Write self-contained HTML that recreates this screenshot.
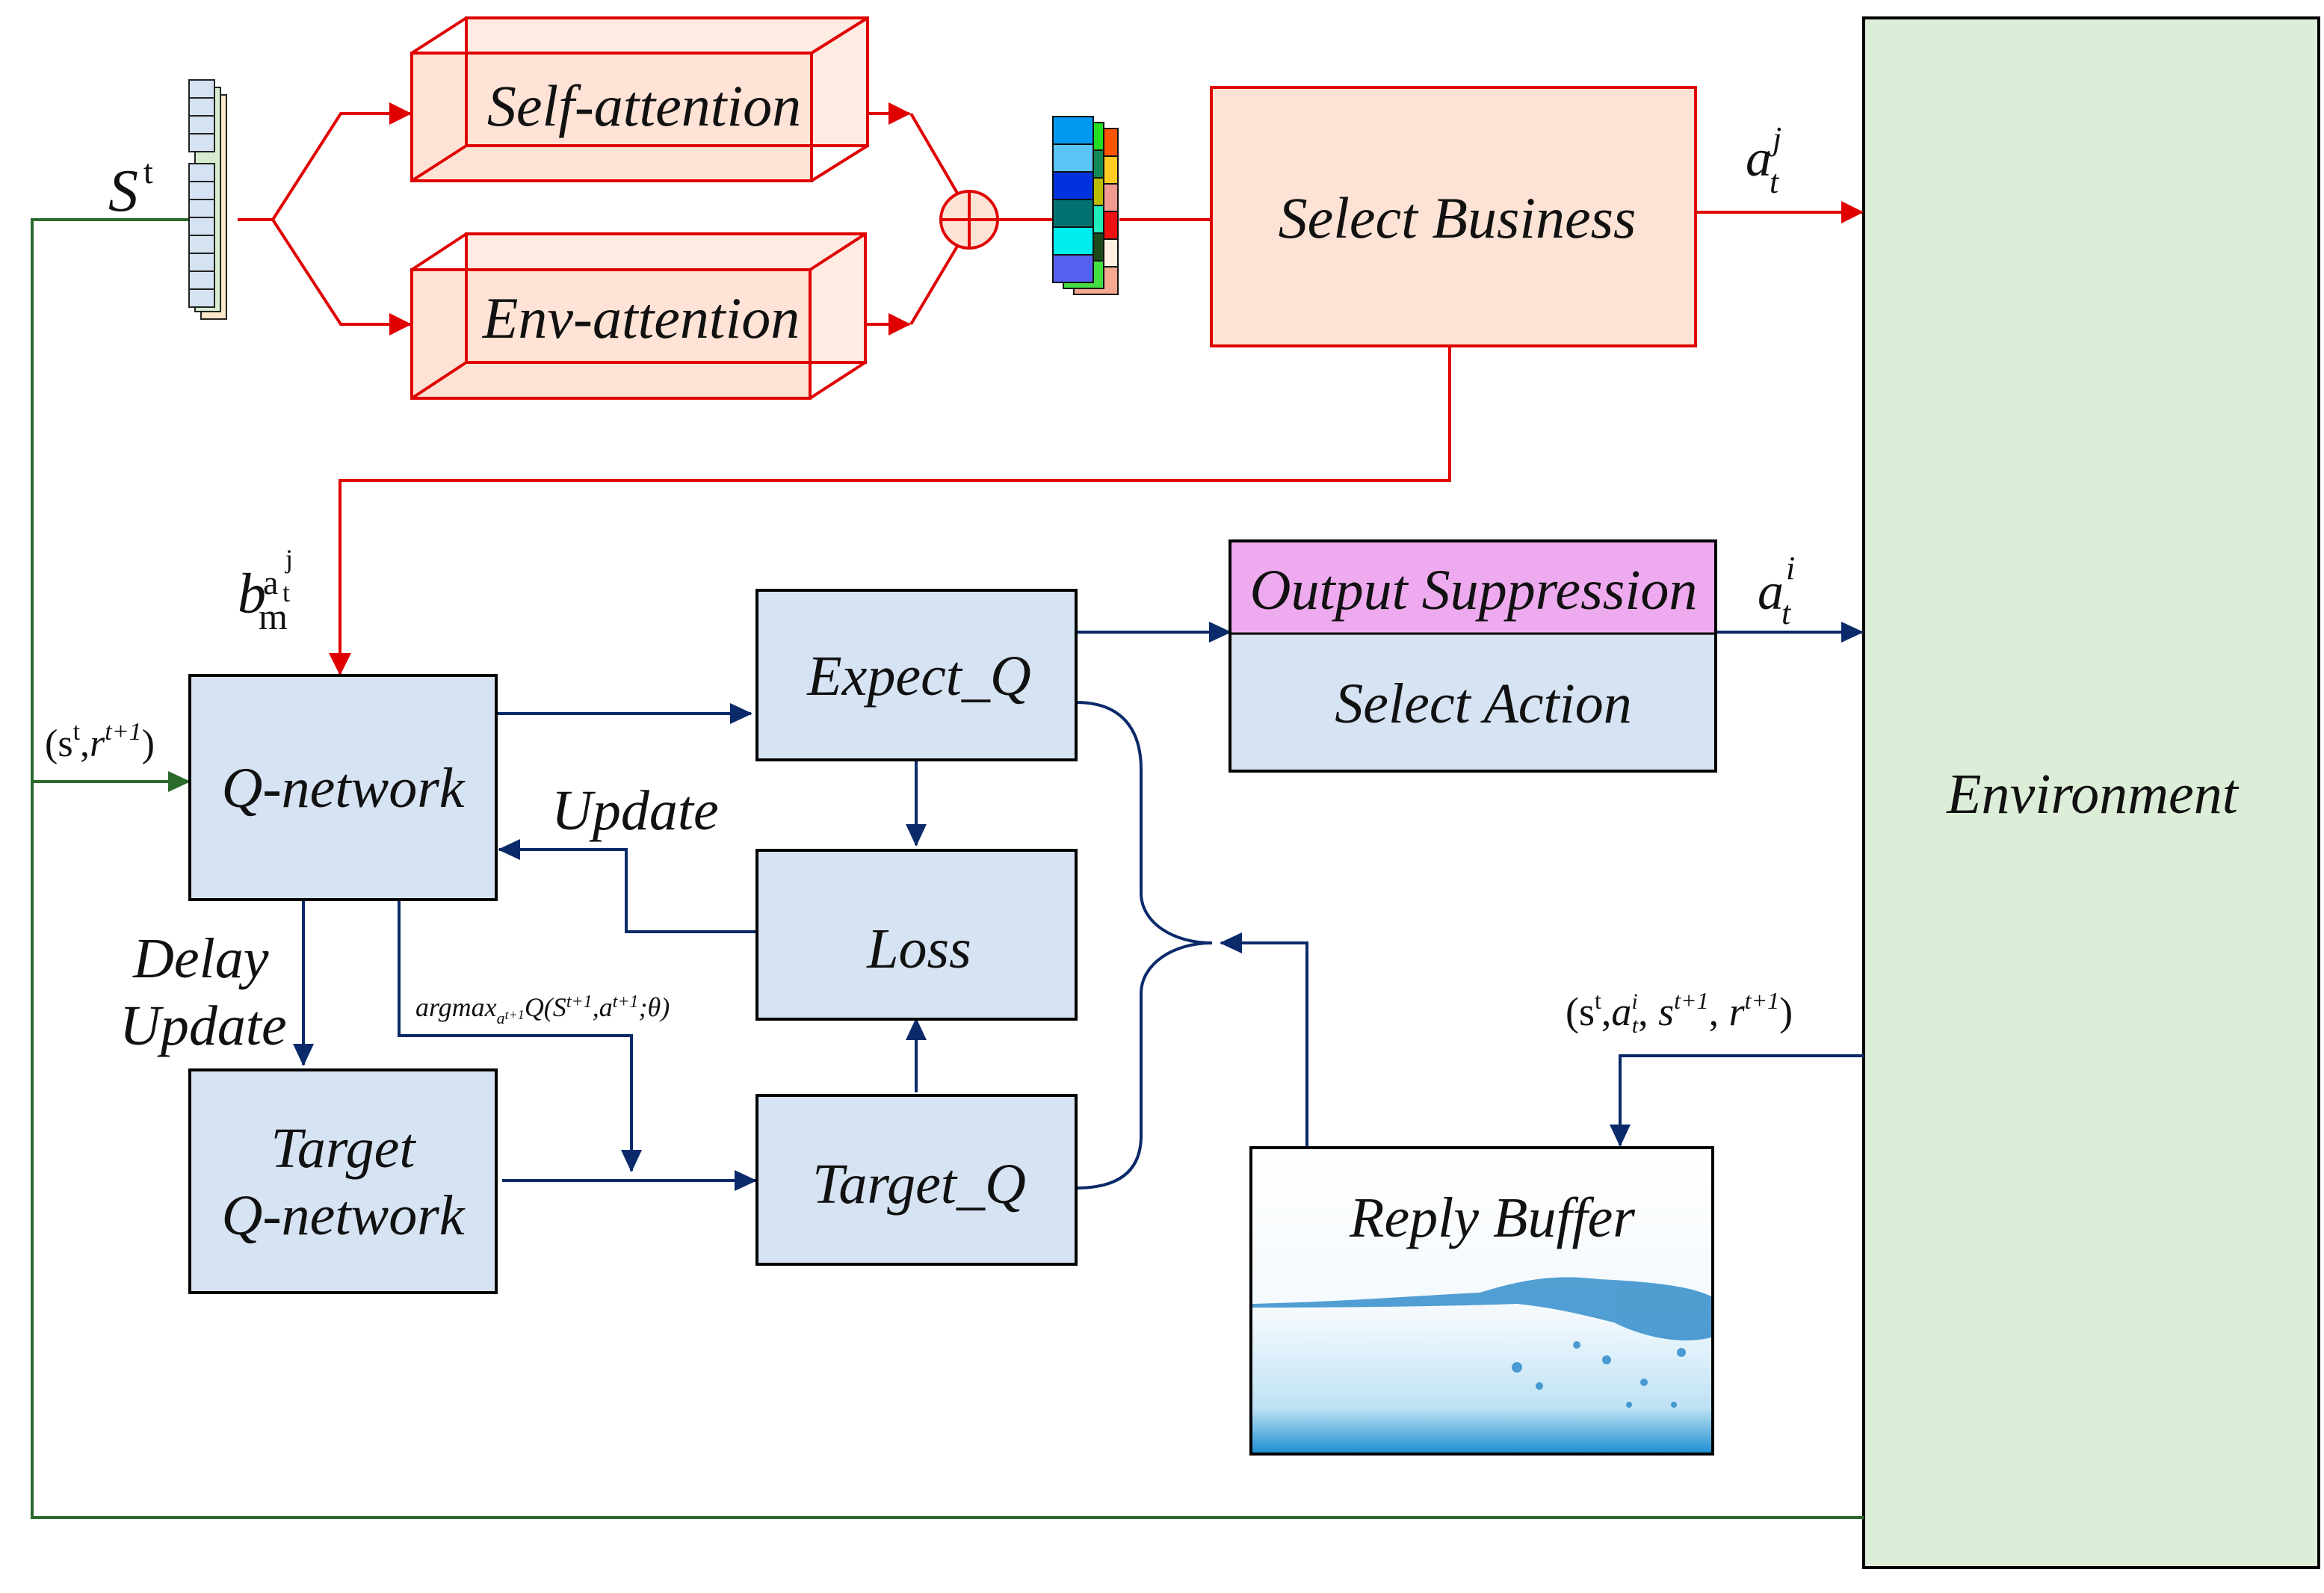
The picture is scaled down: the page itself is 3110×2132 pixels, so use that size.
<!DOCTYPE html>
<html><head><meta charset="utf-8"><style>
html,body{margin:0;padding:0;background:#fff}
svg{display:block}
text{font-family:"Liberation Serif",serif;font-style:italic;fill:#111}
</style></head><body>
<svg width="3110" height="2132" viewBox="0 0 3110 2132" xmlns="http://www.w3.org/2000/svg">
<defs>
<marker id="arN" markerWidth="30" markerHeight="28" refX="28" refY="14" orient="auto" markerUnits="userSpaceOnUse"><path d="M0,0 L30,14 L0,28z" fill="#0a2a6a"/></marker>
<marker id="arG" markerWidth="30" markerHeight="28" refX="28" refY="14" orient="auto" markerUnits="userSpaceOnUse"><path d="M0,0 L30,14 L0,28z" fill="#2a6a2a"/></marker>
<marker id="arR" markerWidth="30" markerHeight="30" refX="28" refY="15" orient="auto" markerUnits="userSpaceOnUse"><path d="M0,0 L30,15 L0,30z" fill="#e00000"/></marker>
<linearGradient id="water" x1="0" y1="0" x2="0" y2="1">
<stop offset="0" stop-color="#ffffff"/><stop offset="0.55" stop-color="#f3f9fd"/><stop offset="0.85" stop-color="#bfe2f5"/><stop offset="1" stop-color="#1a8ed0"/></linearGradient>
</defs>

<rect x="2494" y="24" width="609" height="2074" fill="#ddeed8" stroke="#000" stroke-width="4"/>
<text x="2800" y="1088" font-size="76" text-anchor="middle">Environment</text>

<polyline points="253,294 43,294 43,2031 2494,2031" fill="none" stroke="#2a6a2a" stroke-width="4"/>
<line x1="43" y1="1046" x2="253" y2="1046" stroke="#2a6a2a" stroke-width="4" marker-end="url(#arG)"/>

<g stroke="#222" stroke-width="2">
<rect x="269" y="127" width="34" height="300" fill="#fbe8c8"/>
<rect x="261" y="117" width="34" height="300" fill="#d8ecd0"/>
<g fill="#d4e2f2">
<rect x="253" y="107" width="34" height="24"/><rect x="253" y="131" width="34" height="24"/><rect x="253" y="155" width="34" height="24"/><rect x="253" y="179" width="34" height="24"/>
<rect x="253" y="219" width="34" height="24"/><rect x="253" y="243" width="34" height="24"/><rect x="253" y="267" width="34" height="24"/><rect x="253" y="291" width="34" height="24"/><rect x="253" y="315" width="34" height="24"/><rect x="253" y="339" width="34" height="24"/><rect x="253" y="363" width="34" height="24"/><rect x="253" y="387" width="34" height="24"/>
</g>
</g>
<text x="145" y="282" font-size="80">S</text><text x="192" y="245" font-size="46" style="font-style:normal">t</text>

<g fill="none" stroke="#e00000" stroke-width="4">
<polyline points="318,294 365,294 456,152 549,152" marker-end="url(#arR)"/>
<polyline points="365,294 456,434 549,434" marker-end="url(#arR)"/>
<line x1="1161" y1="152" x2="1217" y2="152" marker-end="url(#arR)"/>
<line x1="1158" y1="434" x2="1217" y2="434" marker-end="url(#arR)"/>
<line x1="1219" y1="152" x2="1282" y2="260"/>
<line x1="1219" y1="434" x2="1282" y2="328"/>
<line x1="1335" y1="294" x2="1409" y2="294"/>
<line x1="1498" y1="294" x2="1621" y2="294"/>
<line x1="2269" y1="284" x2="2492" y2="284" marker-end="url(#arR)"/>
<polyline points="1940,462 1940,643 455,643 455,902" marker-end="url(#arR)"/>
<circle cx="1297" cy="294" r="38" fill="#fde3d6"/>
<line x1="1259" y1="294" x2="1335" y2="294"/><line x1="1297" y1="256" x2="1297" y2="332"/>
</g>

<g stroke="#e00000" stroke-width="4" fill="#fde3d6">
<rect x="551" y="71" width="535" height="171"/>
<rect x="624" y="24" width="537" height="171" fill-opacity="0.7"/>
<line x1="551" y1="71" x2="624" y2="24"/><line x1="1086" y1="71" x2="1161" y2="24"/>
<line x1="551" y1="242" x2="624" y2="195"/><line x1="1086" y1="242" x2="1161" y2="195"/>
<line x1="1086" y1="71" x2="1086" y2="242"/><line x1="551" y1="71" x2="1086" y2="71"/>
<rect x="551" y="361" width="533" height="172"/>
<rect x="624" y="313" width="534" height="172" fill-opacity="0.7"/>
<line x1="551" y1="361" x2="624" y2="313"/><line x1="1084" y1="361" x2="1158" y2="313"/>
<line x1="551" y1="533" x2="624" y2="485"/><line x1="1084" y1="533" x2="1158" y2="485"/>
<line x1="1084" y1="361" x2="1084" y2="533"/><line x1="551" y1="361" x2="1084" y2="361"/>
</g>
<text x="862" y="168" font-size="78" text-anchor="middle">Self-attention</text>
<text x="858" y="452" font-size="78" text-anchor="middle">Env-attention</text>

<g stroke="#111" stroke-width="2">
<rect x="1437" y="172" width="59" height="222" fill="#f4a890"/>
<rect x="1437" y="172" width="59" height="37" fill="#ff5500"/><rect x="1437" y="209" width="59" height="37" fill="#ffcc22"/><rect x="1437" y="246" width="59" height="37" fill="#f09a90"/><rect x="1437" y="283" width="59" height="37" fill="#ee1111"/><rect x="1437" y="320" width="59" height="37" fill="#fff0e0"/>
<rect x="1423" y="164" width="54" height="222" fill="#44dd44"/>
<rect x="1423" y="164" width="54" height="37" fill="#22dd22"/><rect x="1423" y="201" width="54" height="37" fill="#118855"/><rect x="1423" y="238" width="54" height="37" fill="#bbbb00"/><rect x="1423" y="275" width="54" height="37" fill="#22eebb"/><rect x="1423" y="312" width="54" height="37" fill="#1a4a1a"/>
<rect x="1409" y="156" width="54" height="37" fill="#0099ee"/><rect x="1409" y="193" width="54" height="37" fill="#5cc4f4"/><rect x="1409" y="230" width="54" height="37" fill="#0033dd"/><rect x="1409" y="267" width="54" height="37" fill="#007070"/><rect x="1409" y="304" width="54" height="37" fill="#00eeee"/><rect x="1409" y="341" width="54" height="37" fill="#5560f0"/>
</g>

<rect x="1621" y="117" width="648" height="346" fill="#fde3d6" stroke="#e00000" stroke-width="4"/>
<text x="1950" y="318" font-size="78" text-anchor="middle">Select  Business</text>
<text x="2336" y="235" font-size="70">a</text><text x="2372" y="200" font-size="44">j</text><text x="2368" y="258" font-size="44">t</text>

<g fill="none" stroke="#0a2a6a" stroke-width="4">
<line x1="664" y1="955" x2="1005" y2="955" marker-end="url(#arN)"/>
<line x1="1440" y1="846" x2="1646" y2="846" marker-end="url(#arN)"/>
<line x1="2290" y1="846" x2="2492" y2="846" marker-end="url(#arN)"/>
<line x1="1226" y1="1017" x2="1226" y2="1131" marker-end="url(#arN)"/>
<line x1="1226" y1="1462" x2="1226" y2="1364" marker-end="url(#arN)"/>
<polyline points="1013,1247 838,1247 838,1137 668,1137" marker-end="url(#arN)"/>
<line x1="406" y1="1203" x2="406" y2="1425" marker-end="url(#arN)"/>
<polyline points="534,1203 534,1386 845,1386 845,1567" marker-end="url(#arN)"/>
<line x1="672" y1="1580" x2="1011" y2="1580" marker-end="url(#arN)"/>
<path d="M1440,940 C1500,940 1527,975 1527,1030 L1527,1195 C1527,1235 1570,1262 1622,1262 C1570,1262 1527,1290 1527,1330 L1527,1520 C1527,1565 1500,1590 1440,1590"/>
<polyline points="1749,1536 1749,1262 1634,1262" marker-end="url(#arN)"/>
<polyline points="2494,1413 2168,1413 2168,1533" marker-end="url(#arN)"/>
</g>

<g fill="#d6e3f3" stroke="#000" stroke-width="4">
<rect x="254" y="904" width="410" height="300"/>
<rect x="254" y="1432" width="410" height="298"/>
<rect x="1013" y="790" width="427" height="227"/>
<rect x="1013" y="1138" width="427" height="226"/>
<rect x="1013" y="1466" width="427" height="226"/>
<rect x="1646" y="724" width="650" height="308"/>
</g>
<rect x="1648" y="726" width="646" height="122" fill="#eeaaee"/>
<line x1="1646" y1="848" x2="2296" y2="848" stroke="#000" stroke-width="3"/>
<text x="459" y="1080" font-size="76" text-anchor="middle">Q-network</text>
<text x="459" y="1562" font-size="76" text-anchor="middle">Target</text>
<text x="459" y="1652" font-size="76" text-anchor="middle">Q-network</text>
<text x="1230" y="930" font-size="76" text-anchor="middle">Expect_Q</text>
<text x="1230" y="1295" font-size="76" text-anchor="middle">Loss</text>
<text x="1230" y="1610" font-size="76" text-anchor="middle">Target_Q</text>
<text x="1972" y="815" font-size="76" text-anchor="middle">Output  Suppression</text>
<text x="1985" y="967" font-size="76" text-anchor="middle">Select  Action</text>

<rect x="1674" y="1536" width="618" height="410" fill="url(#water)" stroke="#000" stroke-width="4"/>
<g fill="#1a7fc4" opacity="0.75">
<path d="M1676,1745 C1800,1742 1880,1735 1980,1730 C2040,1712 2080,1705 2140,1712 C2200,1715 2260,1720 2290,1735 L2290,1790 C2250,1800 2200,1790 2160,1770 C2120,1760 2080,1750 2030,1745 C1950,1748 1800,1750 1676,1750 Z"/>
<ellipse cx="2230" cy="1760" rx="55" ry="22"/>
<circle cx="2030" cy="1830" r="7"/><circle cx="2060" cy="1855" r="5"/><circle cx="2150" cy="1820" r="6"/><circle cx="2200" cy="1850" r="5"/><circle cx="2250" cy="1810" r="6"/><circle cx="2180" cy="1880" r="4"/><circle cx="2110" cy="1800" r="5"/><circle cx="2240" cy="1880" r="4"/>
</g>
<text x="1997" y="1655" font-size="76" text-anchor="middle">Reply  Buffer</text>

<text x="2352" y="815" font-size="70">a</text><text x="2390" y="775" font-size="44">i</text><text x="2384" y="835" font-size="44">t</text>
<text x="318" y="820" font-size="76">b</text>
<text x="352" y="795" font-size="46" style="font-style:normal">a</text><text x="378" y="805" font-size="36" style="font-style:normal">t</text><text x="382" y="760" font-size="36" style="font-style:normal">j</text>
<text x="346" y="842" font-size="50" style="font-style:normal">m</text>
<text x="60" y="1012" font-size="52" style="font-style:normal">(s<tspan font-size="34" dy="-22">t</tspan><tspan dy="22">,</tspan><tspan font-style="italic">r</tspan><tspan font-size="34" dy="-22" font-style="italic">t+1</tspan><tspan dy="22">)</tspan></text>
<text x="738" y="1110" font-size="76">Update</text>
<text x="178" y="1308" font-size="76">Delay</text>
<text x="160" y="1398" font-size="76">Update</text>
<text x="556" y="1360" font-size="36">argmax<tspan font-size="22" dy="10">a</tspan><tspan font-size="18" dy="-6">t+1</tspan><tspan dy="-4">Q(S</tspan><tspan font-size="24" dy="-12">t+1</tspan><tspan dy="12">,a</tspan><tspan font-size="24" dy="-12">t+1</tspan><tspan dy="12">;θ)</tspan></text>
<text x="2095" y="1372" font-size="54" style="font-style:normal">(s<tspan font-size="32" dy="-22">t</tspan><tspan dy="22">,</tspan><tspan font-style="italic">a</tspan><tspan font-size="30" dy="-22" font-style="italic">i</tspan><tspan font-size="30" dy="32" dx="-8" font-style="italic">t</tspan><tspan dy="-10">, </tspan><tspan font-style="italic">s</tspan><tspan font-size="32" dy="-22" font-style="italic">t+1</tspan><tspan dy="22">, </tspan><tspan font-style="italic">r</tspan><tspan font-size="32" dy="-22" font-style="italic">t+1</tspan><tspan dy="22">)</tspan></text>
</svg>
</body></html>
